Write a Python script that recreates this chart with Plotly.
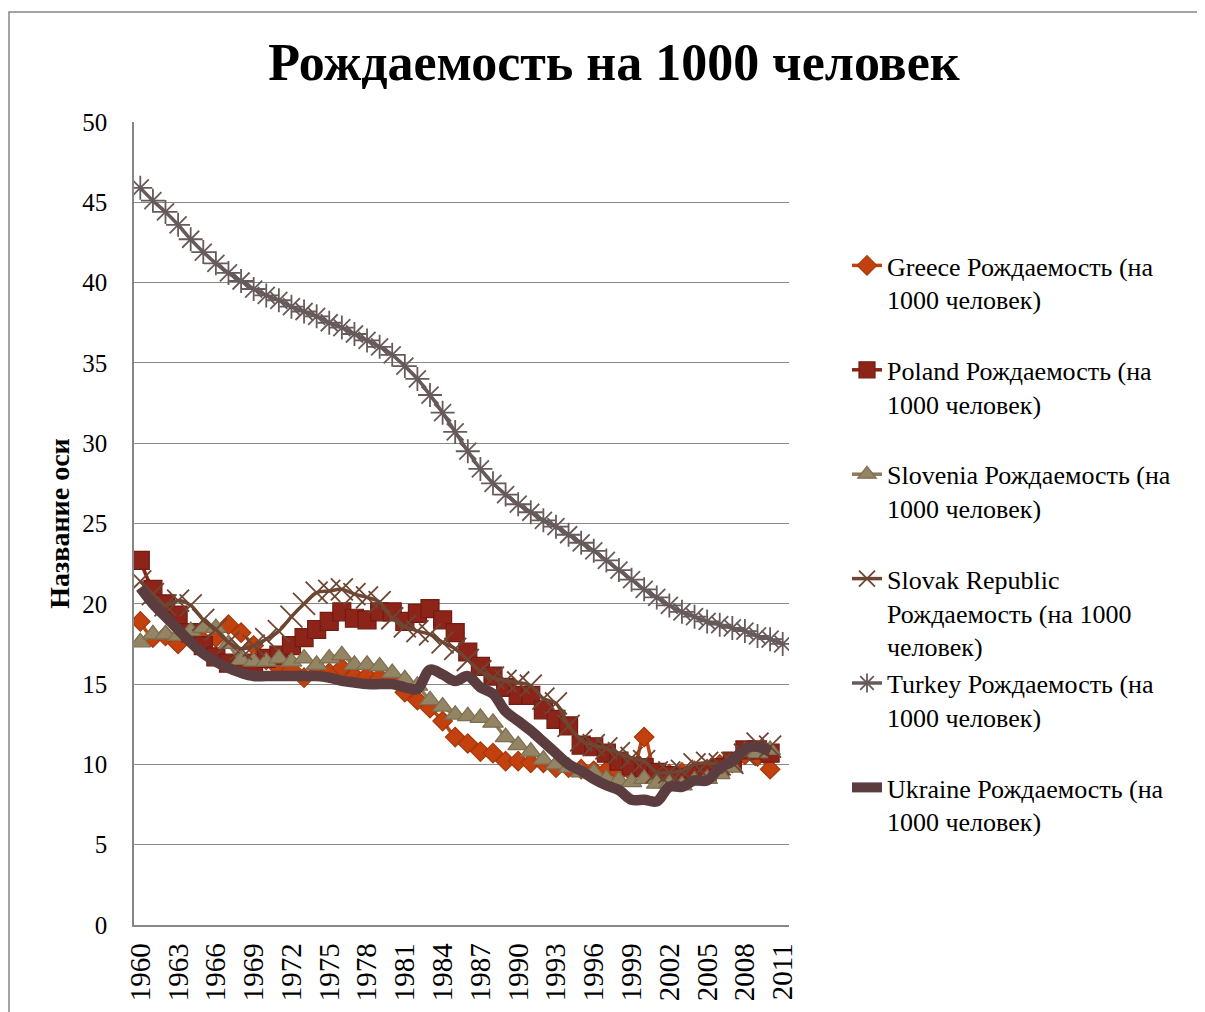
import plotly.graph_objects as go

years = list(range(1960, 2012))

greece = [18.9, 17.9, 18.0, 17.5, 17.9, 17.7, 17.9, 18.7, 18.2, 17.4,
          16.5, 16.0, 15.9, 15.4, 16.0, 15.7, 16.0, 15.5, 15.5, 15.4,
          15.4, 14.5, 14.0, 13.5, 12.7, 11.7, 11.3, 10.8, 10.7, 10.2,
          10.2, 10.1, 10.1, 9.8, 9.8, 9.7, 9.6, 9.6, 9.5, 9.5,
          11.7, 9.4, 9.4, 9.5, 9.6, 9.7, 10.0, 10.1, 10.6, 10.5, 9.7, None]

poland = [22.7, 20.9, 20.0, 19.3, 18.2, 17.4, 16.7, 16.3, 16.2, 16.3,
          16.6, 16.8, 17.4, 17.9, 18.4, 18.9, 19.5, 19.1, 19.0, 19.5,
          19.5, 18.9, 19.4, 19.7, 19.0, 18.2, 17.0, 16.1, 15.5, 14.8,
          14.3, 14.3, 13.4, 12.8, 12.4, 11.2, 11.1, 10.7, 10.2, 9.9,
          9.8, 9.5, 9.3, 9.2, 9.3, 9.5, 9.8, 10.2, 10.9, 10.9, 10.7, None]

slovenia = [17.6, 18.1, 18.1, 18.0, 18.3, 18.5, 18.5, 17.5, 16.5, 16.4,
            16.4, 16.6, 16.4, 16.6, 16.2, 16.6, 16.8, 16.2, 16.2, 16.1,
            15.7, 15.3, 14.9, 14.0, 13.6, 13.1, 13.0, 12.9, 12.6, 11.7,
            11.2, 10.8, 10.3, 10.0, 9.8, 9.5, 9.5, 9.1, 9.0, 8.9,
            9.1, 8.8, 8.8, 8.7, 9.0, 9.1, 9.4, 9.8, 10.8, 10.7, 10.9, None]

slovak = [21.4, 20.6, 19.9, 20.2, 19.9, 19.0, 18.4, 17.6, 17.2, 17.4,
          17.8, 18.3, 19.2, 20.0, 20.7, 20.8, 20.9, 20.6, 20.4, 20.1,
          19.1, 18.6, 18.3, 18.1, 17.6, 17.2, 16.5, 15.8, 15.4, 15.2,
          15.1, 14.9, 14.1, 13.8, 12.4, 11.5, 11.2, 11.0, 10.7, 10.4,
          10.2, 9.5, 9.5, 9.6, 10.0, 10.1, 10.0, 10.1, 10.6, 11.3, 11.1, None]

turkey = [45.9, 45.1, 44.4, 43.6, 42.7, 41.9, 41.2, 40.6, 40.1, 39.6,
          39.2, 38.9, 38.5, 38.2, 37.9, 37.5, 37.2, 36.8, 36.4, 36.0,
          35.5, 34.8, 34.0, 33.0, 31.9, 30.7, 29.5, 28.4, 27.5, 26.8,
          26.2, 25.7, 25.2, 24.8, 24.3, 23.8, 23.3, 22.7, 22.1, 21.5,
          20.9, 20.4, 19.9, 19.5, 19.2, 18.9, 18.7, 18.5, 18.3, 18.0,
          17.8, 17.5]

ukraine = [21.0, 20.0, 19.2, 18.4, 17.6, 16.9, 16.4, 16.0, 15.7, 15.5,
           15.5, 15.5, 15.5, 15.5, 15.5, 15.4, 15.2, 15.1, 15.0, 15.0,
           15.0, 14.8, 14.7, 15.9, 15.6, 15.2, 15.5, 14.8, 14.4, 13.3,
           12.7, 12.1, 11.4, 10.7, 10.0, 9.6, 9.1, 8.7, 8.4, 7.8,
           7.8, 7.7, 8.6, 8.6, 9.0, 9.0, 9.8, 10.2, 11.0, 11.1, 10.8, None]

names = [
    "Greece Рождаемость (на<br>1000 человек)<br> ",
    "Poland Рождаемость (на<br>1000 человек)<br> ",
    "Slovenia Рождаемость (на<br>1000 человек)<br> ",
    "Slovak Republic<br>Рождаемость (на 1000<br>человек)",
    "Turkey Рождаемость (на<br>1000 человек)<br> ",
    "Ukraine Рождаемость (на<br>1000 человек)<br> ",
]
title_text = "Рождаемость на 1000 человек"
y_title = "Название оси"
x_ticks = list(range(1960, 2012, 3))
y_ticks = list(range(0, 51, 5))

SERIF = "Liberation Serif"

# plot area in figure px (page body has an 8px margin)
L, T, W, H = 126, 114, 655, 803

fig = go.Figure()

fig.add_trace(go.Scatter(
    x=years, y=greece, name=names[0], mode="lines+markers", line_shape="spline",
    line=dict(color="#C0430F", width=3.5),
    marker=dict(symbol="diamond", size=15, color="#C3410E",
                line=dict(color="#A5380B", width=1.2))))

fig.add_trace(go.Scatter(
    x=years, y=poland, name=names[1], mode="lines+markers", line_shape="spline",
    line=dict(color="#8A2317", width=3.5),
    marker=dict(symbol="square", size=18, color="#8C2419",
                line=dict(color="#721C12", width=1.2))))

fig.add_trace(go.Scatter(
    x=years, y=slovenia, name=names[2], mode="lines+markers", line_shape="spline",
    line=dict(color="#8B7B5B", width=3.5),
    marker=dict(symbol="triangle-up", size=18, color="#938463",
                line=dict(color="#7C6E52", width=1.2))))

fig.add_trace(go.Scatter(
    x=years, y=slovak, name=names[3], mode="lines+markers", line_shape="spline",
    line=dict(color="#6E4634", width=3.5),
    marker=dict(symbol="x-thin-open", size=22,
                line=dict(color="#6E4634", width=1.8))))

fig.add_trace(go.Scatter(
    x=years, y=turkey, name=names[4], mode="lines+markers", line_shape="spline",
    line=dict(color="#675A5A", width=3.5),
    marker=dict(symbol="asterisk-open", size=20,
                line=dict(color="#675A5A", width=1.8))))

fig.add_trace(go.Scatter(
    x=years, y=ukraine, name=names[5], mode="lines", line_shape="spline",
    line=dict(color="#5B3D3F", width=10.5)))

fig.update_layout(
    width=1205, height=1012,
    margin=dict(l=L, r=1205 - L - W, t=T, b=1012 - T - H),
    paper_bgcolor="white", plot_bgcolor="white",
    font=dict(family=SERIF, color="black"),
    title=dict(text="<b>" + title_text + "</b>", xref="container", x=606 / 1205,
               xanchor="center", yref="container", y=1 - 54 / 1012,
               yanchor="middle", font=dict(family=SERIF, size=52, color="black")),
    showlegend=True,
    legend=dict(x=(839 - L) / W, xanchor="left", y=(T + H - 234) / H, yanchor="top",
                font=dict(family=SERIF, size=26, color="black"),
                valign="top", bgcolor="rgba(0,0,0,0)", tracegroupgap=0),
    xaxis=dict(range=[1959.5, 2011.5], tickmode="array", tickvals=x_ticks,
               ticktext=[str(v) for v in x_ticks], tickangle=-90,
               tickfont=dict(family=SERIF, size=29, color="black"),
               showgrid=False, zeroline=False, showline=True,
               linecolor="#868686", linewidth=1.5, ticks="",
               ticklabelstandoff=5),
    yaxis=dict(range=[0, 50], tickmode="array", tickvals=y_ticks,
               tickfont=dict(family=SERIF, size=25, color="black"),
               showgrid=True, gridcolor="#868686", gridwidth=1.3,
               zeroline=False, showline=True, linecolor="#868686",
               linewidth=1.5, ticks="", ticklabelstandoff=20,
               title=dict(text="<b>" + y_title + "</b>",
                          font=dict(family=SERIF, size=28, color="black"),
                          standoff=4)),
    shapes=[dict(type="rect", xref="paper", yref="paper",
                 x0=(1 - L) / W, x1=1.9, y0=-0.3, y1=(T + H - 4) / H,
                 line=dict(color="#868686", width=1.5), fillcolor="rgba(0,0,0,0)",
                 layer="below")],
)

fig.write_html("out.html")
